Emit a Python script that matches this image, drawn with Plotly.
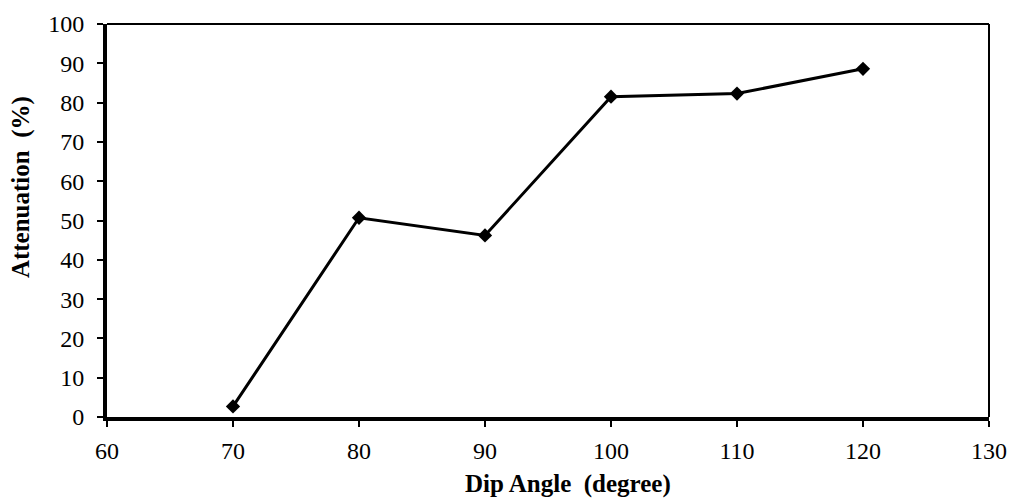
import plotly.graph_objects as go

dip_angle = [70, 80, 90, 100, 110, 120]
attenuation = [2.7, 50.7, 46.2, 81.5, 82.3, 88.6]
x_ticks = [60, 70, 80, 90, 100, 110, 120, 130]
y_ticks = [0, 10, 20, 30, 40, 50, 60, 70, 80, 90, 100]
x_title = "Dip Angle&nbsp; (degree)"
y_title = "Attenuation&nbsp; (%)"

fig = go.Figure()
fig.add_trace(go.Scatter(
    x=dip_angle, y=attenuation, mode="lines+markers",
    line=dict(color="black", width=3),
    marker=dict(symbol="diamond", size=11, color="black"),
    showlegend=False,
))

font_family = "Liberation Serif, Times New Roman, serif"
fig.update_layout(
    width=1010, height=499,
    margin=dict(l=107, r=21, t=24, b=82),
    paper_bgcolor="white", plot_bgcolor="white",
    font=dict(family=font_family, color="black", size=24),
    xaxis=dict(
        range=[60, 130], tickvals=x_ticks, ticktext=[str(v) for v in x_ticks],
        showgrid=False, zeroline=False, showline=True, linecolor="black", linewidth=4,
        ticks="outside", ticklen=6, tickwidth=2, tickcolor="black", automargin=False,
        tickfont=dict(size=24, family=font_family), ticklabelstandoff=3,
    ),
    yaxis=dict(
        range=[0, 100], tickvals=y_ticks, ticktext=[str(v) for v in y_ticks],
        showgrid=False, zeroline=False, showline=True, linecolor="black", linewidth=4,
        ticks="outside", ticklen=6, tickwidth=2, tickcolor="black", automargin=False,
        tickfont=dict(size=24, family=font_family), ticklabelstandoff=8,
    ),
    shapes=[
        dict(type="line", xref="paper", yref="paper", x0=0, x1=1, y0=1, y1=1,
             line=dict(color="black", width=2)),
        dict(type="line", xref="paper", yref="paper", x0=1, x1=1, y0=0, y1=1,
             line=dict(color="black", width=2)),
    ],
    annotations=[
        dict(text="<b>" + x_title + "</b>", xref="paper", yref="paper",
             x=0.523, y=-0.1705, xanchor="center", yanchor="middle", showarrow=False,
             font=dict(size=25, family=font_family, color="black")),
        dict(text="<b>" + y_title + "</b>", xref="paper", yref="paper",
             x=-0.0975, y=0.585, xanchor="center", yanchor="middle", showarrow=False,
             textangle=-90, font=dict(size=25, family=font_family, color="black")),
    ],
)

fig.write_html(
    "out.html",
    config={"displayModeBar": False},
    post_script="document.body.style.margin='0';document.body.style.overflow='hidden';",
)
